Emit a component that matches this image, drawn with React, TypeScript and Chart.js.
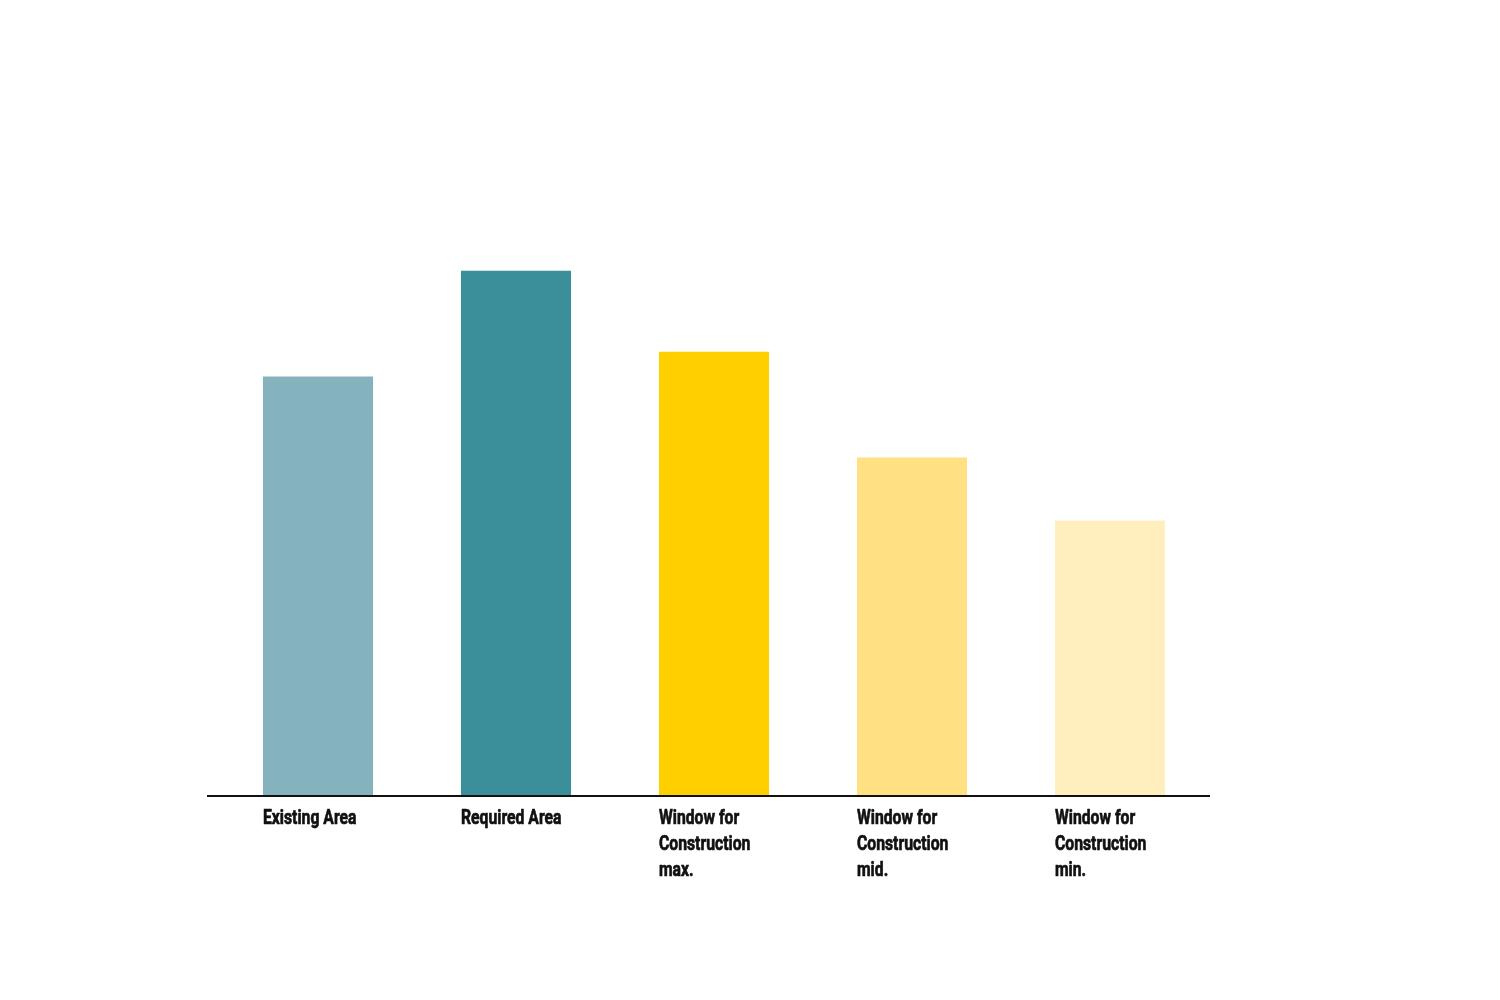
import React, { useEffect, useRef } from "react";
import { Chart, registerables } from "chart.js";

Chart.register(...registerables);

const categories: string[][] = [
  ["Existing Area"],
  ["Required Area"],
  ["Window for", "Construction", "max."],
  ["Window for", "Construction", "mid."],
  ["Window for", "Construction", "min."],
];
const values: number[] = [420, 526, 445, 339, 276];
const barColors: string[] = ["#85B3BD", "#3A8F9A", "#FFCF00", "#FFE082", "#FFEFBF"];
const yMax = 700;

const baselinePlugin = {
  id: "baselineAndLabels",
  afterDatasetsDraw(chart: any) {
    const { ctx, chartArea, scales } = chart;
    const y = scales.y.getPixelForValue(0);
    ctx.save();
    ctx.strokeStyle = "#111111";
    ctx.lineWidth = 2;
    ctx.beginPath();
    ctx.moveTo(chartArea.left - 12, y);
    ctx.lineTo(chartArea.right + 1, y);
    ctx.stroke();

    const meta = chart.getDatasetMeta(0);
    const labels = chart.data.labels as string[][];
    const sx = 0.75;
    ctx.fillStyle = "#111111";
    ctx.strokeStyle = "#111111";
    ctx.lineWidth = 0.7;
    ctx.lineJoin = "round";
    ctx.font = "bold 21px Roboto";
    ctx.textAlign = "left";
    ctx.textBaseline = "alphabetic";
    labels.forEach((lines, i) => {
      const bar = meta.data[i];
      const left = bar.x - bar.width / 2;
      lines.forEach((line, j) => {
        ctx.save();
        ctx.translate(left, y + 28 + j * 26);
        ctx.scale(sx, 1);
        ctx.fillText(line, 0, 0);
        ctx.strokeText(line, 0, 0);
        ctx.restore();
      });
    });
    ctx.restore();
  },
};

export default function App() {
  const ref = useRef<HTMLCanvasElement | null>(null);
  useEffect(() => {
    if (!ref.current) return;
    const chart = new Chart(ref.current, {
      type: "bar",
      data: {
        labels: categories,
        datasets: [
          {
            data: values,
            backgroundColor: barColors,
            borderWidth: 0,
            barPercentage: 0.556,
            categoryPercentage: 1,
          },
        ],
      },
      options: {
        responsive: false,
        animation: false,
        layout: { padding: { left: 219, right: 291, top: 97, bottom: 204 } },
        plugins: { legend: { display: false }, tooltip: { enabled: false } },
        scales: {
          x: { display: false },
          y: { display: false, min: 0, max: yMax },
        },
      },
      plugins: [baselinePlugin],
    });
    return () => chart.destroy();
  }, []);
  return (
    <div style={{ position: "fixed", left: 0, top: 0, width: 1500, height: 1000, background: "#ffffff" }}>
      <canvas ref={ref} width={1500} height={1000} />
    </div>
  );
}
